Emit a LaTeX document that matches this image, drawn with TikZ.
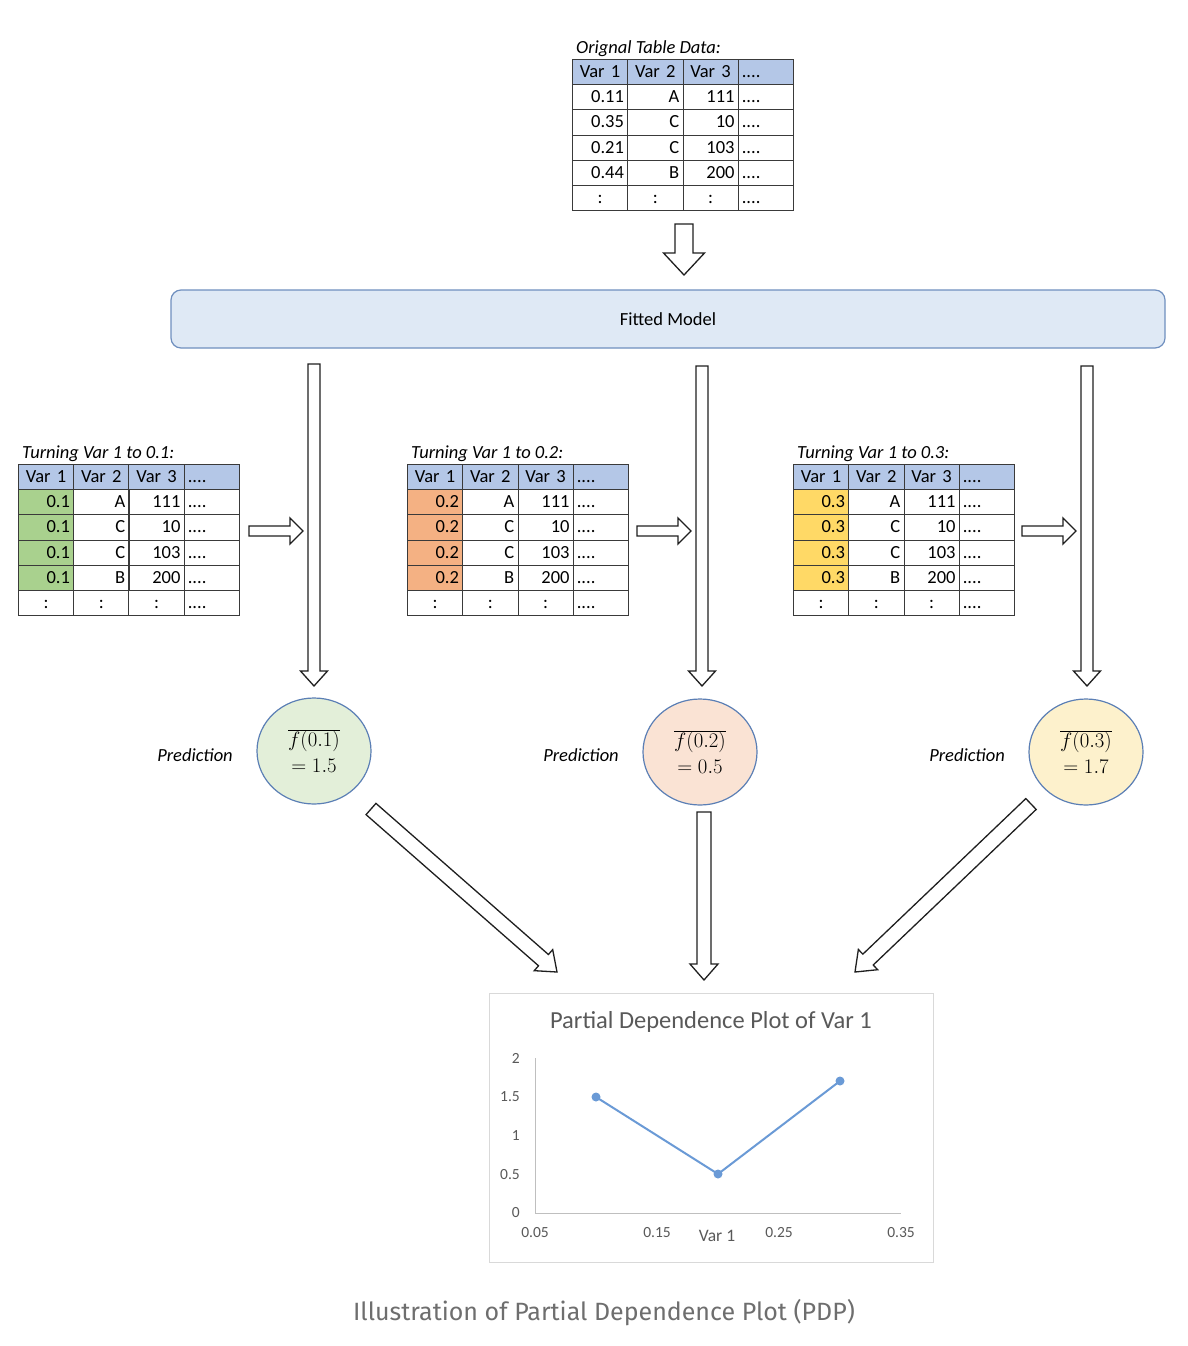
\documentclass[tikz,border=0pt]{standalone}
\usepackage{fontspec}
\setmainfont{Carlito}
\newfontfamily\capfont{Fira Sans}
\usetikzlibrary{calc,shapes.geometric,matrix}
\definecolor{hdr}{HTML}{B4C7E7}
\definecolor{grn}{HTML}{A9D18E}
\definecolor{pch}{HTML}{F4B183}
\definecolor{ylw}{HTML}{FFD966}
\definecolor{fmfill}{HTML}{DFE9F5}
\definecolor{fmdraw}{HTML}{6F8FBF}
\definecolor{tline}{HTML}{3A3A3A}
\definecolor{circdraw}{HTML}{5B7FB5}
\definecolor{cgrn}{HTML}{E3EFD9}
\definecolor{cpch}{HTML}{FAE3D4}
\definecolor{cylw}{HTML}{FDF1CC}
\definecolor{plotbox}{HTML}{D9D9D9}
\definecolor{axisc}{HTML}{BFBFBF}
\definecolor{plottext}{HTML}{595959}
\definecolor{pdpblue}{HTML}{6A9AD6}
\definecolor{captext}{HTML}{6E6E6E}
\newcommand{\blockarrow}[5]{%
  \coordinate (ba-h) at ($(#2)!#5!(#1)$);
  \draw[blockarr] ($(#1)!#3!90:(#2)$) -- ($(ba-h)!#3!-90:(#1)$) -- ($(ba-h)!#4!-90:(#1)$) -- (#2)
    -- ($(ba-h)!#4!90:(#1)$) -- ($(ba-h)!#3!90:(#1)$) -- ($(#1)!#3!-90:(#2)$) -- cycle;}
\tikzset{
  cellbox/.style={draw=tline, line width=0.8pt, text width=47.95pt, inner xsep=3.65pt,
    minimum height=25.2pt, inner ysep=0pt, outer sep=0pt, align=right,
    font=\fontsize{18.5}{21}\selectfont, text height=13.5pt, text depth=2.5pt},
  datatab/.style={matrix of nodes, column sep=-0.8pt, row sep=-0.8pt, anchor=north west,
    inner sep=0pt, outer sep=0pt,
    nodes={cellbox},
    column 1/.style={nodes={fill=#1}},
    column 4/.style={nodes={align=left}},
    row 1/.style={nodes={fill=hdr, align=center}},
    row 6/.style={nodes={fill=white, align=center}},
    row 1 column 4/.style={nodes={align=left}},
    row 6 column 4/.style={nodes={align=left}}},
  tablabel/.style={anchor=south west, inner sep=0pt, font=\fontsize{18.5}{21}\selectfont\itshape},
  blockarr/.style={draw=black!88, line width=1.3pt, fill=white, line join=miter},
  predcirc/.style={ellipse, draw=circdraw, line width=1.2pt, minimum width=114pt,
    minimum height=106pt, align=center, inner sep=0pt, font=\fontsize{21}{25}\selectfont},
  predlabel/.style={font=\fontsize{18.5}{21}\selectfont\itshape},
  ticklabel/.style={font=\fontsize{15.5}{18}\selectfont, text=plottext, inner sep=0pt},
  pdpdot/.style={circle, fill=pdpblue, minimum size=9pt, inner sep=0pt},
}
\begin{document}
\begin{tikzpicture}[x=1pt, y=-1pt]
\useasboundingbox[fill=white] (0,0) rectangle (1188,1346);

% original table
\matrix (orig) [datatab=white] at (572,59) {
  Var 1 & Var 2 & Var 3 & .... \\
  0.11 & A & 111 & .... \\
  0.35 & C & 10 & .... \\
  0.21 & C & 103 & .... \\
  0.44 & B & 200 & .... \\
  : & : & : & .... \\
};
\node[tablabel] (origlab) at ($(orig.north west)+(4,-2)$) {Orignal Table Data:};

% fitted model
\node[draw=fmdraw, fill=fmfill, line width=1.2pt, rounded corners=10pt,
  minimum width=994pt, minimum height=58pt, font=\fontsize{18.5}{21}\selectfont]
  (fm) at (668,319) {Fitted Model};

% panel tables
\matrix (t1) [datatab=grn] at (18,464) {
  Var 1 & Var 2 & Var 3 & .... \\
  0.1 & A & 111 & .... \\
  0.1 & C & 10 & .... \\
  0.1 & C & 103 & .... \\
  0.1 & B & 200 & .... \\
  : & : & : & .... \\
};
\node[tablabel] (t1lab) at ($(t1.north west)+(4,-2)$) {Turning Var 1 to 0.1:};
\matrix (t2) [datatab=pch] at (407,464) {
  Var 1 & Var 2 & Var 3 & .... \\
  0.2 & A & 111 & .... \\
  0.2 & C & 10 & .... \\
  0.2 & C & 103 & .... \\
  0.2 & B & 200 & .... \\
  : & : & : & .... \\
};
\node[tablabel] (t2lab) at ($(t2.north west)+(4,-2)$) {Turning Var 1 to 0.2:};
\matrix (t3) [datatab=ylw] at (793,464) {
  Var 1 & Var 2 & Var 3 & .... \\
  0.3 & A & 111 & .... \\
  0.3 & C & 10 & .... \\
  0.3 & C & 103 & .... \\
  0.3 & B & 200 & .... \\
  : & : & : & .... \\
};
\node[tablabel] (t3lab) at ($(t3.north west)+(4,-2)$) {Turning Var 1 to 0.3:};

% prediction circles
\node[predcirc, fill=cgrn] (c1) at (314,751) {$\overline{f(0.1)}$\\[1pt]$=1.5$};
\node[predcirc, fill=cpch] (c2) at (700,752) {$\overline{f(0.2)}$\\[1pt]$=0.5$};
\node[predcirc, fill=cylw] (c3) at (1086,752) {$\overline{f(0.3)}$\\[1pt]$=1.7$};
\node[predlabel] (p1lab) at (195,755) {Prediction};
\node[predlabel] (p2lab) at (581,755) {Prediction};
\node[predlabel] (p3lab) at (967,755) {Prediction};

% arrow end points
\coordinate (a0s) at (684,224);  \coordinate (a0e) at (684,275);
\coordinate (v1s) at (314,364);  \coordinate (v1e) at (314,686);
\coordinate (v2s) at (702,366);  \coordinate (v2e) at (702,686);
\coordinate (v3s) at (1087,366); \coordinate (v3e) at (1087,686);
\coordinate (h1s) at (249,531);  \coordinate (h1e) at (303,531);
\coordinate (h2s) at (637,531);  \coordinate (h2e) at (691,531);
\coordinate (h3s) at (1022,531); \coordinate (h3e) at (1076,531);
\coordinate (d1s) at (371,809);  \coordinate (d1e) at (557,972);
\coordinate (d2s) at (704,812);  \coordinate (d2e) at (704,980);
\coordinate (d3s) at (1031,804); \coordinate (d3e) at (855,972);

\blockarrow{a0s}{a0e}{9pt}{20.5pt}{22pt}
\blockarrow{v1s}{v1e}{6pt}{13.5pt}{15pt}
\blockarrow{v2s}{v2e}{6pt}{13.5pt}{15pt}
\blockarrow{v3s}{v3e}{6pt}{13.5pt}{15pt}
\blockarrow{h1s}{h1e}{5pt}{13pt}{13pt}
\blockarrow{h2s}{h2e}{5pt}{13pt}{13pt}
\blockarrow{h3s}{h3e}{5pt}{13pt}{13pt}
\blockarrow{d1s}{d1e}{7.5pt}{14pt}{18pt}
\blockarrow{d2s}{d2e}{7pt}{14pt}{16pt}
\blockarrow{d3s}{d3e}{7.5pt}{14pt}{18pt}

% plot
\node[draw=plotbox, line width=1pt, minimum width=444pt, minimum height=269pt,
  anchor=north west, inner sep=0pt] (plot) at (489,993) {};
\node[font=\fontsize{24.5}{28}\selectfont, text=plottext] (ptitle) at (711,1022) {Partial Dependence Plot of Var 1};
\draw[axisc, line width=1pt] (535,1058) -- (535,1213) -- (901,1213);
\foreach \v/\lab in {0/0, 0.5/0.5, 1/1, 1.5/1.5, 2/2}
  \node[ticklabel, anchor=east] (yl\lab) at (520,{1213-77.5*\v}) {\lab};
\foreach \xx/\lab in {535/0.05, 657/0.15, 779/0.25, 901/0.35}
  \node[ticklabel] (xl\lab) at (\xx,1233) {\lab};
\node[font=\fontsize{17.5}{20}\selectfont, text=plottext] (xtitle) at (717,1236) {Var 1};
\node[pdpdot] (q1) at (596,1097) {};
\node[pdpdot] (q2) at (718,1174) {};
\node[pdpdot] (q3) at (840,1081) {};
\draw[pdpblue, line width=2pt] (q1.center) -- (q2.center) -- (q3.center);

% caption
\node[font=\capfont\fontsize{25}{29}\selectfont, text=captext] (caption) at (604,1313)
  {Illustration of Partial Dependence Plot (PDP)};
\end{tikzpicture}
\end{document}
